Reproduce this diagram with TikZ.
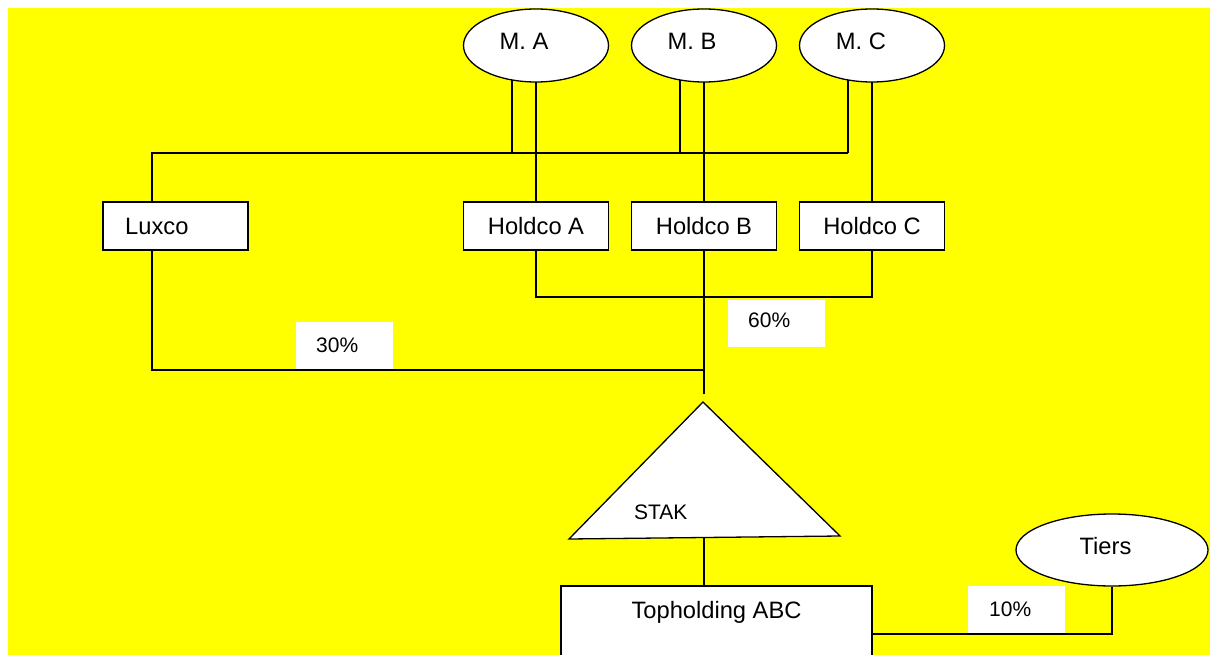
\documentclass[tikz,border=0pt]{standalone}
\usepackage{fontspec}
\setmainfont{Liberation Sans}
\usetikzlibrary{shapes.geometric}
\definecolor{bgyellow}{RGB}{255,255,0}
\pgfdeclarelayer{bg}
\pgfdeclarelayer{wires}
\pgfsetlayers{bg,wires,main}
\begin{document}
\begin{tikzpicture}[x=1pt,y=-1pt,
  wire/.style={line width=1.3pt, black},
  person/.style={draw, line width=1.3pt, ellipse, fill=white,
    minimum width=145pt, minimum height=73pt, inner sep=0pt},
  company/.style={draw, line width=1.3pt, rectangle, fill=white,
    minimum width=145pt, minimum height=48pt, inner sep=0pt},
  share/.style={fill=white, minimum width=97pt, minimum height=47pt, inner sep=0pt},
  big/.style={inner sep=0pt, font=\fontsize{23.7}{28}\selectfont},
  small/.style={inner sep=0pt, font=\fontsize{21}{25}\selectfont}]
\useasboundingbox (0,0) rectangle (1210,655);
\clip (0,0) rectangle (1210,655);

\begin{pgfonlayer}{bg}
  \fill[white] (0,0) rectangle (1210,655);
  \fill[bgyellow] (8,8) rectangle (1210,655);
\end{pgfonlayer}

% shareholders
\node[person] (ma) at (536,45.5) {};
\node[person] (mb) at (704,45.5) {};
\node[person] (mc) at (872,45.5) {};
\node[big, anchor=base] (maT) at (524,50) {M. A};
\node[big, anchor=base] (mbT) at (692,50) {M. B};
\node[big, anchor=base] (mcT) at (861,50) {M. C};

% intermediate holdings
\node[company] (lux) at (175.5,226) {};
\node[company] (ha) at (536,226) {};
\node[company] (hb) at (704,226) {};
\node[company] (hc) at (872,226) {};
\node[big, anchor=base west] (luxT) at (125,235) {Luxco};
\node[big, anchor=base] (haT) at (536,235) {Holdco A};
\node[big, anchor=base] (hbT) at (704,235) {Holdco B};
\node[big, anchor=base] (hcT) at (872,235) {Holdco C};

% STAK
\draw[wire, fill=white] (703,402) coordinate (stakTop) -- (840,536) -- (569,539) -- cycle;
\coordinate (stakBase) at (704,537.6);
\node[small, anchor=base west] (stakT) at (634,519) {STAK};

% top holding and third party
\node[company, minimum width=311pt, minimum height=96pt] (top) at (716.5,634) {};
\node[big, anchor=base] (topT) at (716.5,618) {Topholding ABC};
\node[person, minimum width=192pt, minimum height=72pt] (tiers) at (1112,550) {};
\node[big, anchor=base] (tiersT) at (1105.5,554) {Tiers};

% percentages
\node[share] (p30) at (344.5,345.5) {};
\node[small, anchor=base west] (p30T) at (316,352) {30\%};
\node[share] (p60) at (776.5,323) {};
\node[small, anchor=base west] (p60T) at (748,327) {60\%};
\node[share] (p10) at (1016.5,609.5) {};
\node[small, anchor=base west] (p10T) at (989,616) {10\%};

% junctions
\coordinate (bus) at (848,153);
\coordinate (join) at (704,297);
\coordinate (luxJoin) at (704,370);
\coordinate (hub) at (704,394);
\coordinate (maL) at ([xshift=-24pt]ma.center);
\coordinate (mbL) at ([xshift=-24pt]mb.center);
\coordinate (mcL) at ([xshift=-24pt]mc.center);
\coordinate (luxN) at ([xshift=-23.5pt]lux.north);
\coordinate (luxS) at ([xshift=-23.5pt]lux.south);

\begin{pgfonlayer}{wires}
  \draw[wire] (luxN) |- (bus);
  \draw[wire] (maL) -- (maL |- bus);
  \draw[wire] (mbL) -- (mbL |- bus);
  \draw[wire] (mcL) -- (bus);
  \draw[wire] (ma.center) -- (ha.north);
  \draw[wire] (mb.center) -- (hb.north);
  \draw[wire] (mc.center) -- (hc.north);
  \draw[wire] (ha.south) |- (join) -| (hc.south);
  \draw[wire] (hb.south) -- (hub);
  \draw[wire] (luxS) |- (luxJoin);
  \draw[wire] (stakBase) -- (stakBase |- top.north);
  \draw[wire] (tiers.south) |- (top.east);
\end{pgfonlayer}
\end{tikzpicture}
\end{document}
